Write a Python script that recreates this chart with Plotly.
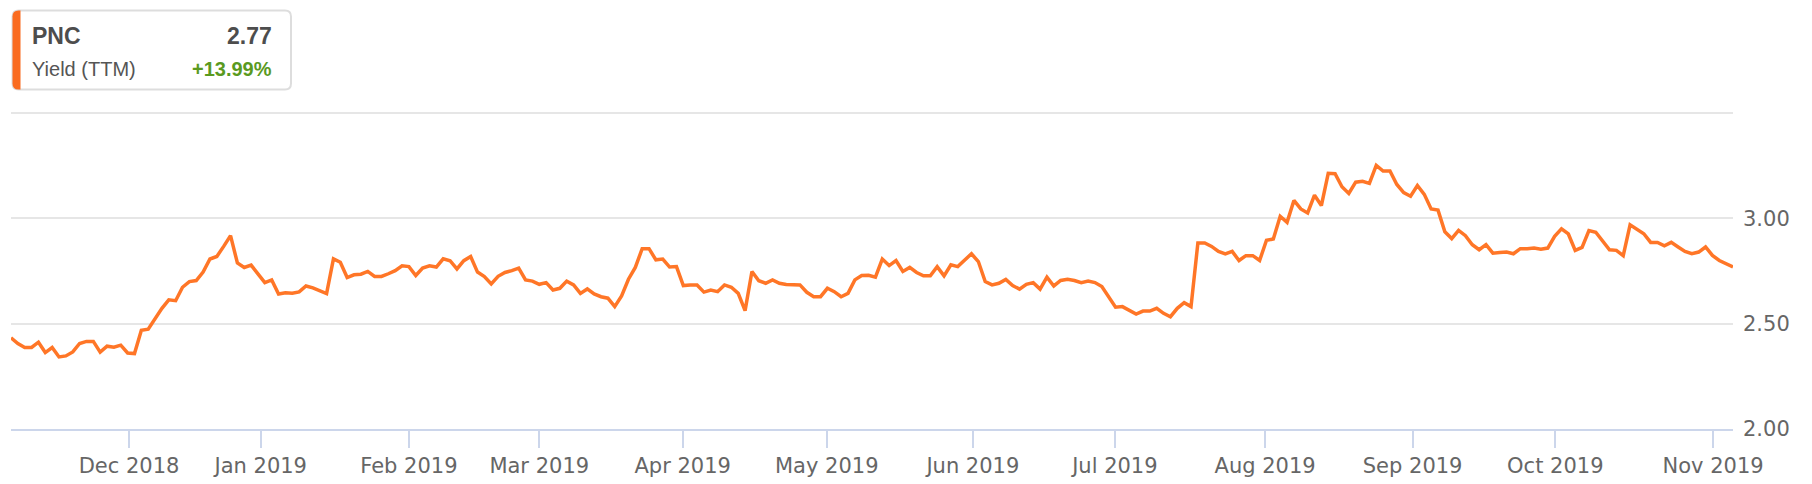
import plotly.graph_objects as go

# PNC dividend yield (TTM), one value per trading day, Nov 2018 - Nov 2019
yield_ttm = [
    2.433, 2.406, 2.387, 2.387, 2.412, 2.363, 2.387, 2.342, 2.347, 2.366,
    2.406, 2.416, 2.416, 2.365, 2.393, 2.388, 2.398, 2.361, 2.358, 2.469,
    2.474, 2.525, 2.573, 2.613, 2.609, 2.673, 2.700, 2.705, 2.745, 2.807,
    2.819, 2.867, 2.918, 2.788, 2.767, 2.778, 2.736, 2.695, 2.708, 2.641,
    2.647, 2.645, 2.651, 2.679, 2.670, 2.657, 2.643, 2.808, 2.792, 2.719,
    2.732, 2.735, 2.748, 2.724, 2.724, 2.737, 2.752, 2.775, 2.771, 2.729,
    2.764, 2.775, 2.769, 2.808, 2.799, 2.760, 2.799, 2.819, 2.745, 2.724,
    2.689, 2.725, 2.743, 2.752, 2.764, 2.708, 2.702, 2.687, 2.695, 2.660,
    2.668, 2.702, 2.684, 2.644, 2.665, 2.641, 2.628, 2.621, 2.581, 2.632,
    2.711, 2.767, 2.856, 2.856, 2.803, 2.807, 2.769, 2.771, 2.681, 2.684,
    2.684, 2.650, 2.660, 2.652, 2.684, 2.673, 2.644, 2.562, 2.748, 2.704,
    2.692, 2.708, 2.692, 2.686, 2.686, 2.684, 2.649, 2.628, 2.628, 2.668,
    2.652, 2.628, 2.644, 2.708, 2.729, 2.730, 2.721, 2.807, 2.776, 2.800,
    2.748, 2.767, 2.743, 2.727, 2.727, 2.771, 2.727, 2.780, 2.771, 2.800,
    2.832, 2.795, 2.700, 2.684, 2.692, 2.710, 2.681, 2.664, 2.687, 2.695,
    2.664, 2.721, 2.679, 2.705, 2.711, 2.705, 2.695, 2.702, 2.695, 2.676,
    2.628, 2.578, 2.581, 2.562, 2.546, 2.560, 2.560, 2.573, 2.549, 2.533,
    2.573, 2.600, 2.581, 2.883, 2.883, 2.867, 2.843, 2.831, 2.843, 2.800,
    2.823, 2.823, 2.800, 2.896, 2.902, 3.010, 2.981, 3.085, 3.045, 3.026,
    3.110, 3.061, 3.214, 3.212, 3.150, 3.118, 3.172, 3.176, 3.166, 3.252,
    3.225, 3.225, 3.161, 3.122, 3.105, 3.156, 3.114, 3.045, 3.039, 2.936,
    2.904, 2.943, 2.918, 2.875, 2.851, 2.875, 2.835, 2.838, 2.840, 2.832,
    2.856, 2.856, 2.859, 2.853, 2.859, 2.915, 2.950, 2.926, 2.848, 2.862,
    2.942, 2.934, 2.894, 2.851, 2.848, 2.823, 2.969, 2.947, 2.927, 2.886,
    2.886, 2.870, 2.886, 2.864, 2.843, 2.832, 2.840, 2.864, 2.824, 2.800,
    2.783, 2.769,
]
days = list(range(len(yield_ttm)))

# month ticks (trading-day position of each month start)
month_pos = [17.2, 36.4, 58.0, 77.0, 97.9, 118.9, 140.2, 160.9, 182.8, 204.3, 225.1, 248.1]
month_labels = ["Dec 2018", "Jan 2019", "Feb 2019", "Mar 2019", "Apr 2019", "May 2019",
                "Jun 2019", "Jul 2019", "Aug 2019", "Sep 2019", "Oct 2019", "Nov 2019"]
y_ticks = [2.0, 2.5, 3.0, 3.5]
y_labels = ["2.00", "2.50", "3.00", ""]

ticker = "PNC"
metric = "Yield (TTM)"
last_value = "2.77"
change = "+13.99%"

W, H = 1812, 484
L, R, T, B = 11, 79, 112, 55
PW, PH = W - L - R, H - T - B


# pixel -> paper helpers for the header box
def px(x):
    return (x - L) / PW


def py(y):
    return (H - B - y) / PH


def pt(x, y):
    return "%.5f,%.5f" % (px(x), py(y))


def rounded_box(x0, y0, x1, y1, r):
    return ("M " + pt(x0 + r, y0) + " L " + pt(x1 - r, y0) +
            " Q " + pt(x1, y0) + " " + pt(x1, y0 + r) +
            " L " + pt(x1, y1 - r) + " Q " + pt(x1, y1) + " " + pt(x1 - r, y1) +
            " L " + pt(x0 + r, y1) + " Q " + pt(x0, y1) + " " + pt(x0, y1 - r) +
            " L " + pt(x0, y0 + r) + " Q " + pt(x0, y0) + " " + pt(x0 + r, y0) + " Z")


def left_bar(x0, y0, x1, y1, r):
    return ("M " + pt(x0 + r, y0) + " L " + pt(x1, y0) + " L " + pt(x1, y1) +
            " L " + pt(x0 + r, y1) + " Q " + pt(x0, y1) + " " + pt(x0, y1 - r) +
            " L " + pt(x0, y0 + r) + " Q " + pt(x0, y0) + " " + pt(x0 + r, y0) + " Z")


fig = go.Figure()

fig.add_trace(
    go.Scatter(
        x=days,
        y=yield_ttm,
        mode="lines",
        line=dict(color="#ff7627", width=3.5),
        name=ticker,
        hoverinfo="skip"
    )
)

label_font = dict(family="DejaVu Sans", size=21, color="#666666")

fig.update_xaxes(
    range=[0, len(yield_ttm) - 1],
    tickvals=month_pos,
    ticktext=month_labels,
    tickfont=label_font,
    ticks="outside",
    ticklen=17,
    tickwidth=2,
    tickcolor="#ccd6eb",
    showline=True,
    linecolor="#ccd6eb",
    linewidth=2,
    showgrid=False,
    zeroline=False,
    automargin=False,
)

fig.update_yaxes(
    side="right",
    range=[2.0, 3.505],
    tickvals=y_ticks,
    ticktext=y_labels,
    tickfont=label_font,
    ticklabelstandoff=9,
    showgrid=True,
    gridcolor="#e6e6e6",
    gridwidth=2,
    showline=False,
    zeroline=False,
    automargin=False,
)

hdr = "Liberation Sans"
fig.update_layout(
    width=W,
    height=H,
    margin=dict(l=L, r=R, t=T, b=B),
    paper_bgcolor="white",
    plot_bgcolor="white",
    showlegend=False,
    shapes=[
        dict(type="path", xref="paper", yref="paper",
             path=rounded_box(12.5, 10.5, 291, 89.5, 6),
             fillcolor="white", line=dict(color="#dddddd", width=2)),
        dict(type="path", xref="paper", yref="paper",
             path=left_bar(12.5, 10.5, 20.5, 89.5, 6),
             fillcolor="#fa6b1f", line=dict(width=0)),
    ],
    annotations=[
        dict(x=px(30), y=py(36), xref="paper", yref="paper", xanchor="left", yanchor="middle",
             text="<b>" + ticker + "</b>", showarrow=False,
             font=dict(family=hdr, size=23, color="#4d4d4d")),
        dict(x=px(274), y=py(36), xref="paper", yref="paper", xanchor="right", yanchor="middle",
             text="<b>" + last_value + "</b>", showarrow=False,
             font=dict(family=hdr, size=23, color="#4d4d4d")),
        dict(x=px(30), y=py(69.5), xref="paper", yref="paper", xanchor="left", yanchor="middle",
             text=metric, showarrow=False,
             font=dict(family=hdr, size=20, color="#555555")),
        dict(x=px(274), y=py(69.5), xref="paper", yref="paper", xanchor="right", yanchor="middle",
             text="<b>" + change + "</b>", showarrow=False,
             font=dict(family=hdr, size=20, color="#5a9a1f")),
    ],
)

# page body has a default 8px margin; drop it so the figure sits at the window origin
fig.write_html("out.html", config={"displayModeBar": False},
               post_script="document.body.style.margin='0px';")
